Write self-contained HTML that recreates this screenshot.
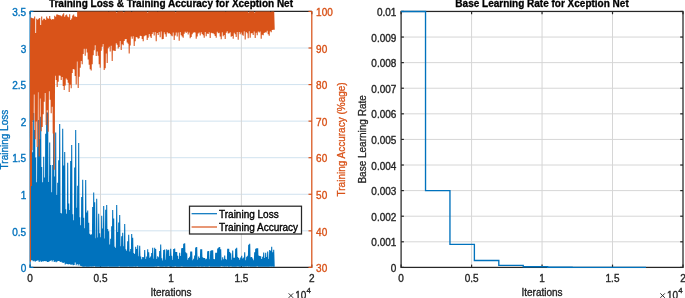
<!DOCTYPE html>
<html><head><meta charset="utf-8"><style>
html,body{margin:0;padding:0;background:#fff;}
svg{display:block;will-change:transform;filter:blur(0.25px);font-family:"Liberation Sans",sans-serif;font-size:10px;}
</style></head><body>
<svg width="685" height="298" viewBox="0 0 685 298">
<line x1="30.1" x2="311.8" y1="230.84" y2="230.84" stroke="#D0E2EF" stroke-width="1"/>
<line x1="30.1" x2="311.8" y1="194.27" y2="194.27" stroke="#D0E2EF" stroke-width="1"/>
<line x1="30.1" x2="311.8" y1="157.71" y2="157.71" stroke="#D0E2EF" stroke-width="1"/>
<line x1="30.1" x2="311.8" y1="121.14" y2="121.14" stroke="#D0E2EF" stroke-width="1"/>
<line x1="30.1" x2="311.8" y1="84.58" y2="84.58" stroke="#D0E2EF" stroke-width="1"/>
<line x1="30.1" x2="311.8" y1="48.01" y2="48.01" stroke="#D0E2EF" stroke-width="1"/>
<line x1="100.53" x2="100.53" y1="11.45" y2="267.4" stroke="#D6D6D6" stroke-width="1"/>
<line x1="170.95" x2="170.95" y1="11.45" y2="267.4" stroke="#D6D6D6" stroke-width="1"/>
<line x1="241.37" x2="241.37" y1="11.45" y2="267.4" stroke="#D6D6D6" stroke-width="1"/>
<line x1="401.1" x2="683.0" y1="241.80" y2="241.80" stroke="#D6D6D6" stroke-width="1"/>
<line x1="401.1" x2="683.0" y1="216.21" y2="216.21" stroke="#D6D6D6" stroke-width="1"/>
<line x1="401.1" x2="683.0" y1="190.61" y2="190.61" stroke="#D6D6D6" stroke-width="1"/>
<line x1="401.1" x2="683.0" y1="165.02" y2="165.02" stroke="#D6D6D6" stroke-width="1"/>
<line x1="401.1" x2="683.0" y1="139.42" y2="139.42" stroke="#D6D6D6" stroke-width="1"/>
<line x1="401.1" x2="683.0" y1="113.83" y2="113.83" stroke="#D6D6D6" stroke-width="1"/>
<line x1="401.1" x2="683.0" y1="88.23" y2="88.23" stroke="#D6D6D6" stroke-width="1"/>
<line x1="401.1" x2="683.0" y1="62.64" y2="62.64" stroke="#D6D6D6" stroke-width="1"/>
<line x1="401.1" x2="683.0" y1="37.05" y2="37.05" stroke="#D6D6D6" stroke-width="1"/>
<line x1="471.58" x2="471.58" y1="11.45" y2="267.4" stroke="#D6D6D6" stroke-width="1"/>
<line x1="542.05" x2="542.05" y1="11.45" y2="267.4" stroke="#D6D6D6" stroke-width="1"/>
<line x1="612.52" x2="612.52" y1="11.45" y2="267.4" stroke="#D6D6D6" stroke-width="1"/>
<line x1="30.1" x2="311.8" y1="11.45" y2="11.45" stroke="#262626" stroke-width="1.25"/>
<line x1="30.1" x2="311.8" y1="267.4" y2="267.4" stroke="#262626" stroke-width="1.25"/>
<line x1="30.10" x2="30.10" y1="267.4" y2="264.59999999999997" stroke="#262626" stroke-width="1.2"/>
<line x1="30.10" x2="30.10" y1="11.45" y2="14.25" stroke="#262626" stroke-width="1.2"/>
<line x1="100.53" x2="100.53" y1="267.4" y2="264.59999999999997" stroke="#262626" stroke-width="1.2"/>
<line x1="100.53" x2="100.53" y1="11.45" y2="14.25" stroke="#262626" stroke-width="1.2"/>
<line x1="170.95" x2="170.95" y1="267.4" y2="264.59999999999997" stroke="#262626" stroke-width="1.2"/>
<line x1="170.95" x2="170.95" y1="11.45" y2="14.25" stroke="#262626" stroke-width="1.2"/>
<line x1="241.37" x2="241.37" y1="267.4" y2="264.59999999999997" stroke="#262626" stroke-width="1.2"/>
<line x1="241.37" x2="241.37" y1="11.45" y2="14.25" stroke="#262626" stroke-width="1.2"/>
<line x1="311.80" x2="311.80" y1="267.4" y2="264.59999999999997" stroke="#262626" stroke-width="1.2"/>
<line x1="311.80" x2="311.80" y1="11.45" y2="14.25" stroke="#262626" stroke-width="1.2"/>
<rect x="401.1" y="11.45" width="281.90" height="255.95" fill="none" stroke="#262626" stroke-width="1.25"/>
<line x1="401.10" x2="401.10" y1="267.4" y2="264.59999999999997" stroke="#262626" stroke-width="1.2"/>
<line x1="401.10" x2="401.10" y1="11.45" y2="14.25" stroke="#262626" stroke-width="1.2"/>
<line x1="471.58" x2="471.58" y1="267.4" y2="264.59999999999997" stroke="#262626" stroke-width="1.2"/>
<line x1="471.58" x2="471.58" y1="11.45" y2="14.25" stroke="#262626" stroke-width="1.2"/>
<line x1="542.05" x2="542.05" y1="267.4" y2="264.59999999999997" stroke="#262626" stroke-width="1.2"/>
<line x1="542.05" x2="542.05" y1="11.45" y2="14.25" stroke="#262626" stroke-width="1.2"/>
<line x1="612.52" x2="612.52" y1="267.4" y2="264.59999999999997" stroke="#262626" stroke-width="1.2"/>
<line x1="612.52" x2="612.52" y1="11.45" y2="14.25" stroke="#262626" stroke-width="1.2"/>
<line x1="683.00" x2="683.00" y1="267.4" y2="264.59999999999997" stroke="#262626" stroke-width="1.2"/>
<line x1="683.00" x2="683.00" y1="11.45" y2="14.25" stroke="#262626" stroke-width="1.2"/>
<line x1="401.1" x2="403.90000000000003" y1="267.40" y2="267.40" stroke="#262626" stroke-width="1.2"/>
<line x1="683.0" x2="680.2" y1="267.40" y2="267.40" stroke="#262626" stroke-width="1.2"/>
<line x1="401.1" x2="403.90000000000003" y1="241.80" y2="241.80" stroke="#262626" stroke-width="1.2"/>
<line x1="683.0" x2="680.2" y1="241.80" y2="241.80" stroke="#262626" stroke-width="1.2"/>
<line x1="401.1" x2="403.90000000000003" y1="216.21" y2="216.21" stroke="#262626" stroke-width="1.2"/>
<line x1="683.0" x2="680.2" y1="216.21" y2="216.21" stroke="#262626" stroke-width="1.2"/>
<line x1="401.1" x2="403.90000000000003" y1="190.61" y2="190.61" stroke="#262626" stroke-width="1.2"/>
<line x1="683.0" x2="680.2" y1="190.61" y2="190.61" stroke="#262626" stroke-width="1.2"/>
<line x1="401.1" x2="403.90000000000003" y1="165.02" y2="165.02" stroke="#262626" stroke-width="1.2"/>
<line x1="683.0" x2="680.2" y1="165.02" y2="165.02" stroke="#262626" stroke-width="1.2"/>
<line x1="401.1" x2="403.90000000000003" y1="139.42" y2="139.42" stroke="#262626" stroke-width="1.2"/>
<line x1="683.0" x2="680.2" y1="139.42" y2="139.42" stroke="#262626" stroke-width="1.2"/>
<line x1="401.1" x2="403.90000000000003" y1="113.83" y2="113.83" stroke="#262626" stroke-width="1.2"/>
<line x1="683.0" x2="680.2" y1="113.83" y2="113.83" stroke="#262626" stroke-width="1.2"/>
<line x1="401.1" x2="403.90000000000003" y1="88.23" y2="88.23" stroke="#262626" stroke-width="1.2"/>
<line x1="683.0" x2="680.2" y1="88.23" y2="88.23" stroke="#262626" stroke-width="1.2"/>
<line x1="401.1" x2="403.90000000000003" y1="62.64" y2="62.64" stroke="#262626" stroke-width="1.2"/>
<line x1="683.0" x2="680.2" y1="62.64" y2="62.64" stroke="#262626" stroke-width="1.2"/>
<line x1="401.1" x2="403.90000000000003" y1="37.05" y2="37.05" stroke="#262626" stroke-width="1.2"/>
<line x1="683.0" x2="680.2" y1="37.05" y2="37.05" stroke="#262626" stroke-width="1.2"/>
<line x1="401.1" x2="403.90000000000003" y1="11.45" y2="11.45" stroke="#262626" stroke-width="1.2"/>
<line x1="683.0" x2="680.2" y1="11.45" y2="11.45" stroke="#262626" stroke-width="1.2"/>
<line x1="30.1" x2="30.1" y1="10.899999999999999" y2="267.95" stroke="#0072BD" stroke-width="1.25"/>
<line x1="311.8" x2="311.8" y1="10.899999999999999" y2="267.95" stroke="#D95319" stroke-width="1.25"/>
<line x1="30.1" x2="33.4" y1="267.40" y2="267.40" stroke="#0072BD" stroke-width="1.2"/>
<line x1="311.8" x2="308.5" y1="267.40" y2="267.40" stroke="#D95319" stroke-width="1.2"/>
<line x1="30.1" x2="33.4" y1="230.84" y2="230.84" stroke="#0072BD" stroke-width="1.2"/>
<line x1="311.8" x2="308.5" y1="230.84" y2="230.84" stroke="#D95319" stroke-width="1.2"/>
<line x1="30.1" x2="33.4" y1="194.27" y2="194.27" stroke="#0072BD" stroke-width="1.2"/>
<line x1="311.8" x2="308.5" y1="194.27" y2="194.27" stroke="#D95319" stroke-width="1.2"/>
<line x1="30.1" x2="33.4" y1="157.71" y2="157.71" stroke="#0072BD" stroke-width="1.2"/>
<line x1="311.8" x2="308.5" y1="157.71" y2="157.71" stroke="#D95319" stroke-width="1.2"/>
<line x1="30.1" x2="33.4" y1="121.14" y2="121.14" stroke="#0072BD" stroke-width="1.2"/>
<line x1="311.8" x2="308.5" y1="121.14" y2="121.14" stroke="#D95319" stroke-width="1.2"/>
<line x1="30.1" x2="33.4" y1="84.58" y2="84.58" stroke="#0072BD" stroke-width="1.2"/>
<line x1="311.8" x2="308.5" y1="84.58" y2="84.58" stroke="#D95319" stroke-width="1.2"/>
<line x1="30.1" x2="33.4" y1="48.01" y2="48.01" stroke="#0072BD" stroke-width="1.2"/>
<line x1="311.8" x2="308.5" y1="48.01" y2="48.01" stroke="#D95319" stroke-width="1.2"/>
<line x1="30.1" x2="33.4" y1="11.45" y2="11.45" stroke="#0072BD" stroke-width="1.2"/>
<line x1="311.8" x2="308.5" y1="11.45" y2="11.45" stroke="#D95319" stroke-width="1.2"/>
<polyline points="30.40,120.00 30.70,178.94 31.20,260.32 31.70,123.15 32.20,260.35 32.70,152.30 33.20,261.15 33.70,113.00 34.20,260.79 34.70,129.97 35.20,261.79 35.70,157.53 36.20,261.11 36.70,182.31 37.20,260.55 37.70,146.68 38.20,260.57 38.70,120.00 39.20,262.01 39.70,138.94 40.20,260.76 40.70,116.86 41.20,261.89 41.70,166.99 42.20,261.36 42.70,182.32 43.20,261.49 43.70,156.72 44.20,260.91 44.70,177.56 45.20,261.24 45.70,133.75 46.20,261.03 46.70,112.24 47.20,262.09 47.70,112.40 48.20,262.09 48.70,181.93 49.20,261.47 49.70,142.53 50.20,260.91 50.70,165.00 51.20,260.21 51.70,192.30 52.20,261.48 52.70,164.91 53.20,260.21 53.70,116.00 54.20,262.02 54.70,176.38 55.20,261.62 55.70,132.55 56.20,262.37 56.70,195.04 57.20,261.58 57.70,182.81 58.20,261.00 58.70,160.29 59.20,261.10 59.70,124.00 60.20,261.98 60.70,212.90 61.20,261.79 61.70,213.46 62.20,262.57 62.70,128.70 63.20,263.10 63.70,165.55 64.20,262.62 64.70,151.90 65.20,264.39 65.70,209.22 66.20,263.63 66.70,213.82 67.20,264.00 67.70,162.70 68.20,264.61 68.70,203.41 69.20,263.95 69.70,209.93 70.20,264.55 70.70,161.00 71.20,264.75 71.70,145.10 72.20,264.48 72.70,214.37 73.20,265.19 73.70,220.38 74.20,265.11 74.70,167.40 75.20,262.56 75.70,130.00 76.20,265.23 76.70,207.85 77.20,264.05 77.70,185.72 78.20,265.48 78.70,143.00 79.20,264.23 79.70,217.17 80.20,265.76 80.70,225.38 81.20,265.90 81.70,197.00 82.20,266.44 82.70,179.82 83.20,266.72 83.70,217.64 84.20,266.80 84.70,228.31 85.20,266.49 85.70,180.00 86.20,266.80 86.70,212.40 87.20,266.80 87.70,210.40 88.20,266.80 88.70,222.78 89.20,266.80 89.70,233.70 90.20,266.56 90.70,234.66 91.20,266.80 91.70,234.30 92.20,266.55 92.70,207.00 93.20,266.80 93.70,192.60 94.20,266.09 94.70,202.15 95.20,266.80 95.70,238.37 96.20,266.80 96.70,198.67 97.20,266.80 97.70,237.45 98.20,266.80 98.70,213.80 99.20,266.80 99.70,233.25 100.20,266.80 100.70,237.35 101.20,266.80 101.70,215.80 102.20,266.80 102.70,228.45 103.20,266.80 103.70,206.00 104.20,266.80 104.70,238.47 105.20,266.80 105.70,209.80 106.20,266.79 106.70,205.00 107.20,266.65 107.70,229.02 108.20,266.44 108.70,231.22 109.20,266.80 109.70,244.61 110.20,266.80 110.70,238.72 111.20,266.80 111.70,226.30 112.20,266.80 112.70,210.00 113.20,266.80 113.70,218.50 114.20,266.80 114.70,246.84 115.20,266.80 115.70,248.13 116.20,266.80 116.70,205.00 117.20,266.80 117.70,231.93 118.20,266.80 118.70,222.63 119.20,266.34 119.70,214.99 120.20,266.80 120.70,246.22 121.20,266.80 121.70,236.14 122.20,266.80 122.70,232.64 123.20,266.80 123.70,246.17 124.20,266.80 124.70,223.93 125.20,266.80 125.70,249.26 126.20,266.80 126.70,250.80 127.20,266.78 127.70,241.35 128.20,266.39 128.70,234.70 129.20,266.64 129.70,251.63 130.20,266.80 130.70,249.06 131.20,266.80 131.70,234.13 132.20,266.80 132.70,237.69 133.20,266.80 133.70,253.04 134.20,266.55 134.70,254.03 135.20,266.80 135.70,246.64 136.20,266.68 136.70,248.98 137.20,266.24 137.70,245.36 138.20,266.80 138.70,256.21 139.20,266.80 139.70,245.85 140.20,266.80 140.70,256.44 141.20,266.80 141.70,259.23 142.20,266.80 142.70,256.99 143.20,266.80 143.70,257.19 144.20,266.72 144.70,249.95 145.20,266.79 145.70,258.91 146.20,266.80 146.70,256.59 147.20,266.80 147.70,249.36 148.20,266.80 148.70,252.19 149.20,266.80 149.70,257.71 150.20,266.77 150.70,256.47 151.20,266.69 151.70,252.93 152.20,266.74 152.70,247.83 153.20,266.80 153.70,258.74 154.20,266.80 154.70,247.64 155.20,266.37 155.70,248.93 156.20,266.80 156.70,259.10 157.20,266.43 157.70,256.30 158.20,266.26 158.70,257.19 159.20,266.50 159.70,250.91 160.20,266.80 160.70,244.40 161.20,266.80 161.70,258.18 162.20,266.80 162.70,260.45 163.20,266.80 163.70,249.97 164.20,266.57 164.70,249.44 165.20,266.80 165.70,259.76 166.20,266.80 166.70,249.35 167.20,266.80 167.70,250.23 168.20,266.32 168.70,249.87 169.20,266.80 169.70,256.03 170.20,266.49 170.70,248.69 171.20,266.80 171.70,255.67 172.20,266.68 172.70,260.12 173.20,266.80 173.70,249.13 174.20,266.80 174.70,248.45 175.20,266.20 175.70,252.11 176.20,266.80 176.70,251.90 177.20,266.80 177.70,255.83 178.20,266.80 178.70,258.94 179.20,266.80 179.70,252.80 180.20,266.80 180.70,255.90 181.20,266.58 181.70,248.14 182.20,266.52 182.70,247.92 183.20,266.80 183.70,243.86 184.20,266.80 184.70,243.38 185.20,266.80 185.70,252.15 186.20,266.80 186.70,253.35 187.20,266.68 187.70,259.79 188.20,266.80 188.70,257.95 189.20,266.80 189.70,256.82 190.20,266.80 190.70,251.60 191.20,266.80 191.70,251.44 192.20,266.80 192.70,260.21 193.20,266.80 193.70,258.89 194.20,266.63 194.70,255.51 195.20,266.80 195.70,247.48 196.20,266.70 196.70,247.03 197.20,266.57 197.70,259.77 198.20,266.80 198.70,256.61 199.20,266.80 199.70,258.06 200.20,266.46 200.70,249.28 201.20,266.73 201.70,249.29 202.20,266.66 202.70,257.16 203.20,266.80 203.70,257.99 204.20,266.52 204.70,258.07 205.20,266.80 205.70,259.26 206.20,266.80 206.70,258.85 207.20,266.80 207.70,251.20 208.20,266.61 208.70,251.07 209.20,266.23 209.70,259.24 210.20,266.80 210.70,250.85 211.20,266.80 211.70,250.37 212.20,266.80 212.70,250.23 213.20,266.75 213.70,258.93 214.20,266.59 214.70,259.17 215.20,266.80 215.70,252.68 216.20,266.80 216.70,252.87 217.20,266.80 217.70,248.59 218.20,266.78 218.70,247.49 219.20,266.80 219.70,247.07 220.20,266.80 220.70,249.15 221.20,266.29 221.70,260.18 222.20,266.50 222.70,257.37 223.20,266.47 223.70,259.41 224.20,266.80 224.70,255.59 225.20,266.57 225.70,259.01 226.20,266.80 226.70,259.70 227.20,266.24 227.70,248.74 228.20,266.80 228.70,248.66 229.20,266.80 229.70,252.04 230.20,266.51 230.70,253.22 231.20,266.52 231.70,259.69 232.20,266.61 232.70,250.52 233.20,266.80 233.70,257.82 234.20,266.80 234.70,257.77 235.20,266.80 235.70,248.77 236.20,266.62 236.70,247.68 237.20,266.53 237.70,257.06 238.20,266.58 238.70,258.01 239.20,266.80 239.70,259.76 240.20,266.80 240.70,257.58 241.20,266.58 241.70,255.84 242.20,266.53 242.70,258.45 243.20,266.65 243.70,257.55 244.20,266.80 244.70,252.35 245.20,266.36 245.70,260.22 246.20,266.80 246.70,256.67 247.20,266.25 247.70,255.82 248.20,266.80 248.70,244.64 249.20,266.53 249.70,243.77 250.20,266.80 250.70,257.35 251.20,266.80 251.70,257.13 252.20,266.80 252.70,258.60 253.20,266.76 253.70,260.21 254.20,266.76 254.70,252.21 255.20,266.80 255.70,248.85 256.20,266.80 256.70,248.18 257.20,266.27 257.70,248.31 258.20,266.80 258.70,255.53 259.20,266.67 259.70,255.98 260.20,266.80 260.70,256.22 261.20,266.80 261.70,258.97 262.20,266.69 262.70,256.70 263.20,266.67 263.70,252.43 264.20,266.80 264.70,257.95 265.20,266.65 265.70,252.79 266.20,266.75 266.70,256.99 267.20,266.80 267.70,251.40 268.20,266.80 268.70,259.05 269.20,266.80 269.70,250.13 270.20,266.54 270.70,250.87 271.20,266.80 271.70,246.80 272.20,266.60 272.70,252.37 273.20,266.80 273.70,249.78 274.20,266.80" fill="none" stroke="#0072BD" stroke-width="1.05" stroke-linejoin="bevel"/>
<polyline points="30.40,261.50 30.45,42.00 31.00,17.50 31.35,186.00 31.70,18.00 32.00,150.00 32.70,18.29 33.20,120.28 33.70,18.60 34.20,94.46 34.70,16.52 35.20,139.21 35.70,33.00 36.20,121.38 36.70,18.63 37.20,147.10 37.70,19.76 38.20,92.14 38.70,18.68 39.20,156.40 39.70,18.08 40.20,98.40 40.70,25.04 41.20,131.34 41.70,16.48 42.20,127.10 42.70,20.20 43.20,114.26 43.70,18.82 44.20,101.65 44.70,18.78 45.20,93.04 45.70,20.05 46.20,125.00 46.70,16.45 47.20,110.30 47.70,18.29 48.20,131.66 48.70,18.69 49.20,91.14 49.70,15.94 50.20,99.76 50.70,18.76 51.20,113.32 51.70,19.73 52.20,106.66 52.70,18.88 53.20,133.56 53.70,19.24 54.20,169.74 54.70,15.82 55.20,75.74 55.70,16.69 56.20,80.06 56.70,14.56 57.20,86.98 57.70,14.53 58.20,81.68 58.70,15.00 59.20,75.46 59.70,15.35 60.20,75.87 60.70,15.61 61.20,80.02 61.70,16.23 62.20,76.98 62.70,14.50 63.20,86.00 63.70,13.23 64.20,89.94 64.70,16.78 65.20,85.53 65.70,15.16 66.20,78.50 66.70,14.38 67.20,79.70 67.70,16.61 68.20,82.65 68.70,17.15 69.20,92.00 69.70,14.14 70.20,84.87 70.70,19.95 71.20,88.35 71.70,18.55 72.20,72.96 72.70,15.42 73.20,68.89 73.70,14.43 74.20,69.54 74.70,16.59 75.20,75.90 75.70,16.59 76.20,84.42 76.70,16.97 77.20,61.37 77.70,11.45 78.20,88.00 78.70,11.45 79.20,76.67 79.70,11.45 80.20,67.78 80.70,11.45 81.20,61.05 81.70,11.45 82.20,64.29 82.70,11.45 83.20,53.99 83.70,11.45 84.20,48.77 84.70,11.45 85.20,55.73 85.70,11.45 86.20,48.63 86.70,11.45 87.20,52.50 87.70,11.45 88.20,59.54 88.70,11.45 89.20,64.84 89.70,11.45 90.20,69.29 90.70,11.45 91.20,70.52 91.70,11.45 92.20,64.33 92.70,11.45 93.20,55.28 93.70,11.45 94.20,50.25 94.70,11.45 95.20,45.21 95.70,11.45 96.20,56.00 96.70,11.45 97.20,51.59 97.70,11.45 98.20,55.82 98.70,11.45 99.20,64.35 99.70,11.45 100.20,67.70 100.70,11.45 101.20,50.66 101.70,11.45 102.20,46.82 102.70,11.45 103.20,44.07 103.70,11.45 104.20,70.00 104.70,11.60 105.20,68.19 105.70,11.59 106.20,53.46 106.70,11.45 107.20,62.89 107.70,11.45 108.20,48.33 108.70,11.71 109.20,46.82 109.70,11.45 110.20,51.44 110.70,11.45 111.20,45.85 111.70,11.45 112.20,61.05 112.70,11.45 113.20,50.46 113.70,11.45 114.20,50.68 114.70,11.45 115.20,51.10 115.70,11.45 116.20,43.34 116.70,12.58 117.20,44.86 117.70,11.70 118.20,48.41 118.70,11.45 119.20,46.95 119.70,11.45 120.20,41.05 120.70,11.45 121.20,49.97 121.70,11.45 122.20,44.19 122.70,11.45 123.20,45.34 123.70,12.17 124.20,40.88 124.70,11.64 125.20,39.16 125.70,11.45 126.20,38.90 126.70,11.45 127.20,42.45 127.70,11.45 128.20,43.82 128.70,11.45 129.20,53.50 129.70,11.45 130.20,45.44 130.70,11.45 131.20,36.54 131.70,12.01 132.20,38.74 132.70,11.45 133.20,36.17 133.70,11.45 134.20,45.99 134.70,11.45 135.20,41.24 135.70,11.45 136.20,37.10 136.70,11.45 137.20,37.37 137.70,11.45 138.20,38.74 138.70,11.45 139.20,38.22 139.70,11.45 140.20,35.72 140.70,11.45 141.20,36.09 141.70,11.45 142.20,39.02 142.70,11.45 143.20,41.22 143.70,11.45 144.20,36.25 144.70,11.45 145.20,35.61 145.70,11.45 146.20,35.35 146.70,11.45 147.20,40.07 147.70,12.52 148.20,37.73 148.70,11.45 149.20,34.00 149.70,11.45 150.20,36.39 150.70,11.45 151.20,38.05 151.70,11.45 152.20,34.01 152.70,11.45 153.20,32.26 153.70,11.45 154.20,35.44 154.70,11.45 155.20,32.01 155.70,11.45 156.20,41.18 156.70,11.45 157.20,32.90 157.70,11.80 158.20,35.00 158.70,11.45 159.20,31.90 159.70,11.45 160.20,37.19 160.70,11.45 161.20,31.39 161.70,11.45 162.20,39.22 162.70,11.45 163.20,39.10 163.70,11.45 164.20,32.34 164.70,11.45 165.20,34.32 165.70,11.45 166.20,36.80 166.70,11.48 167.20,32.21 167.70,11.45 168.20,33.54 168.70,11.45 169.20,32.94 169.70,11.45 170.20,33.99 170.70,11.45 171.20,35.53 171.70,11.45 172.20,36.22 172.70,11.45 173.20,32.59 173.70,11.45 174.20,39.92 174.70,11.45 175.20,35.40 175.70,12.18 176.20,32.59 176.70,11.45 177.20,36.41 177.70,11.45 178.20,32.39 178.70,11.45 179.20,40.68 179.70,11.45 180.20,32.06 180.70,11.45 181.20,35.35 181.70,11.45 182.20,36.40 182.70,11.45 183.20,37.68 183.70,11.45 184.20,33.78 184.70,11.45 185.20,31.74 185.70,11.45 186.20,32.88 186.70,11.45 187.20,31.66 187.70,11.45 188.20,34.38 188.70,11.45 189.20,32.54 189.70,11.45 190.20,38.36 190.70,11.45 191.20,37.05 191.70,11.45 192.20,34.24 192.70,11.45 193.20,32.84 193.70,11.45 194.20,32.22 194.70,11.45 195.20,32.42 195.70,11.45 196.20,38.80 196.70,11.45 197.20,36.60 197.70,11.45 198.20,33.46 198.70,11.45 199.20,32.55 199.70,11.45 200.20,35.47 200.70,11.45 201.20,32.23 201.70,11.45 202.20,33.99 202.70,11.45 203.20,35.22 203.70,11.45 204.20,37.78 204.70,11.45 205.20,32.03 205.70,11.45 206.20,36.34 206.70,11.45 207.20,33.53 207.70,11.45 208.20,33.95 208.70,11.45 209.20,32.19 209.70,11.45 210.20,37.98 210.70,11.45 211.20,32.85 211.70,11.45 212.20,33.16 212.70,11.45 213.20,33.23 213.70,11.50 214.20,34.24 214.70,11.45 215.20,35.99 215.70,11.53 216.20,37.76 216.70,11.45 217.20,31.68 217.70,11.45 218.20,33.22 218.70,11.45 219.20,32.65 219.70,11.45 220.20,36.54 220.70,11.45 221.20,39.28 221.70,11.45 222.20,32.25 222.70,11.45 223.20,36.19 223.70,11.45 224.20,35.01 224.70,11.45 225.20,38.97 225.70,11.82 226.20,32.76 226.70,11.45 227.20,31.29 227.70,11.45 228.20,33.55 228.70,11.63 229.20,33.32 229.70,11.45 230.20,32.14 230.70,11.45 231.20,36.82 231.70,11.45 232.20,35.98 232.70,11.45 233.20,38.84 233.70,11.45 234.20,32.74 234.70,11.45 235.20,34.18 235.70,11.45 236.20,36.92 236.70,11.45 237.20,32.03 237.70,11.45 238.20,39.71 238.70,11.45 239.20,31.92 239.70,11.45 240.20,34.12 240.70,11.45 241.20,32.48 241.70,11.45 242.20,34.78 242.70,11.45 243.20,35.71 243.70,11.45 244.20,31.21 244.70,11.45 245.20,39.53 245.70,11.45 246.20,32.03 246.70,11.45 247.20,33.28 247.70,11.45 248.20,38.22 248.70,12.59 249.20,31.16 249.70,11.45 250.20,37.69 250.70,11.45 251.20,33.30 251.70,11.45 252.20,33.12 252.70,11.45 253.20,34.89 253.70,11.45 254.20,31.56 254.70,12.53 255.20,37.90 255.70,11.45 256.20,32.71 256.70,11.45 257.20,35.12 257.70,11.45 258.20,31.51 258.70,11.45 259.20,32.53 259.70,11.45 260.20,31.52 260.70,11.45 261.20,38.65 261.70,11.45 262.20,34.75 262.70,11.45 263.20,35.20 263.70,11.45 264.20,33.01 264.70,11.45 265.20,32.35 265.70,11.45 266.20,32.61 266.70,11.45 267.20,30.78 267.70,11.45 268.20,34.24 268.70,11.45 269.20,35.83 269.70,11.45 270.20,31.27 270.70,12.05 271.20,32.21 271.70,11.45 272.20,29.92 272.70,11.45 273.20,29.67 273.70,11.45 274.20,29.66" fill="none" stroke="#D95319" stroke-width="1.05" stroke-linejoin="bevel"/>
<polyline points="401.10,11.45 425.53,11.45 425.53,190.61 449.95,190.61 449.95,244.36 474.38,244.36 474.38,260.49 498.81,260.49 498.81,265.33 523.23,265.33 523.23,266.78 547.66,266.78 547.66,267.21 572.09,267.21 572.09,267.34 596.51,267.34 596.51,267.38 620.94,267.38 620.94,267.39 645.37,267.39 645.37,267.40 645.93,267.40" fill="none" stroke="#0072BD" stroke-width="1.35"/>
<rect x="189.5" y="206.2" width="112" height="27.8" fill="#fff" stroke="#262626" stroke-width="1.25"/>
<line x1="191.6" x2="217" y1="213.7" y2="213.7" stroke="#0072BD" stroke-width="1.2"/>
<line x1="191.6" x2="217" y1="227" y2="227" stroke="#D95319" stroke-width="1.2"/>
<text stroke="#000" stroke-width="0.35" x="219" y="217.6" fill="#000">Training Loss</text>
<text stroke="#000" stroke-width="0.35" x="219" y="230.8" fill="#000">Training Accuracy</text>
<text stroke="#0072BD" stroke-width="0.35" x="26.2" y="272.10" text-anchor="end" fill="#0072BD">0</text>
<text stroke="#0072BD" stroke-width="0.35" x="26.2" y="235.54" text-anchor="end" fill="#0072BD">0.5</text>
<text stroke="#0072BD" stroke-width="0.35" x="26.2" y="198.97" text-anchor="end" fill="#0072BD">1</text>
<text stroke="#0072BD" stroke-width="0.35" x="26.2" y="162.41" text-anchor="end" fill="#0072BD">1.5</text>
<text stroke="#0072BD" stroke-width="0.35" x="26.2" y="125.84" text-anchor="end" fill="#0072BD">2</text>
<text stroke="#0072BD" stroke-width="0.35" x="26.2" y="89.28" text-anchor="end" fill="#0072BD">2.5</text>
<text stroke="#0072BD" stroke-width="0.35" x="26.2" y="52.71" text-anchor="end" fill="#0072BD">3</text>
<text stroke="#0072BD" stroke-width="0.35" x="26.2" y="16.15" text-anchor="end" fill="#0072BD">3.5</text>
<text stroke="#D95319" stroke-width="0.35" x="316.1" y="272.10" fill="#D95319">30</text>
<text stroke="#D95319" stroke-width="0.35" x="316.1" y="235.54" fill="#D95319">40</text>
<text stroke="#D95319" stroke-width="0.35" x="316.1" y="198.97" fill="#D95319">50</text>
<text stroke="#D95319" stroke-width="0.35" x="316.1" y="162.41" fill="#D95319">60</text>
<text stroke="#D95319" stroke-width="0.35" x="316.1" y="125.84" fill="#D95319">70</text>
<text stroke="#D95319" stroke-width="0.35" x="316.1" y="89.28" fill="#D95319">80</text>
<text stroke="#D95319" stroke-width="0.35" x="316.1" y="52.71" fill="#D95319">90</text>
<text stroke="#D95319" stroke-width="0.35" x="316.1" y="16.15" fill="#D95319">100</text>
<text stroke="#262626" stroke-width="0.35" x="30.10" y="281.8" text-anchor="middle" fill="#262626">0</text>
<text stroke="#262626" stroke-width="0.35" x="401.10" y="281.8" text-anchor="middle" fill="#262626">0</text>
<text stroke="#262626" stroke-width="0.35" x="100.53" y="281.8" text-anchor="middle" fill="#262626">0.5</text>
<text stroke="#262626" stroke-width="0.35" x="471.58" y="281.8" text-anchor="middle" fill="#262626">0.5</text>
<text stroke="#262626" stroke-width="0.35" x="170.95" y="281.8" text-anchor="middle" fill="#262626">1</text>
<text stroke="#262626" stroke-width="0.35" x="542.05" y="281.8" text-anchor="middle" fill="#262626">1</text>
<text stroke="#262626" stroke-width="0.35" x="241.37" y="281.8" text-anchor="middle" fill="#262626">1.5</text>
<text stroke="#262626" stroke-width="0.35" x="612.52" y="281.8" text-anchor="middle" fill="#262626">1.5</text>
<text stroke="#262626" stroke-width="0.35" x="311.80" y="281.8" text-anchor="middle" fill="#262626">2</text>
<text stroke="#262626" stroke-width="0.35" x="683.00" y="281.8" text-anchor="middle" fill="#262626">2</text>
<text stroke="#262626" stroke-width="0.35" x="396.4" y="271.90" text-anchor="end" fill="#262626">0</text>
<text stroke="#262626" stroke-width="0.35" x="396.4" y="246.30" text-anchor="end" fill="#262626">0.001</text>
<text stroke="#262626" stroke-width="0.35" x="396.4" y="220.71" text-anchor="end" fill="#262626">0.002</text>
<text stroke="#262626" stroke-width="0.35" x="396.4" y="195.11" text-anchor="end" fill="#262626">0.003</text>
<text stroke="#262626" stroke-width="0.35" x="396.4" y="169.52" text-anchor="end" fill="#262626">0.004</text>
<text stroke="#262626" stroke-width="0.35" x="396.4" y="143.92" text-anchor="end" fill="#262626">0.005</text>
<text stroke="#262626" stroke-width="0.35" x="396.4" y="118.33" text-anchor="end" fill="#262626">0.006</text>
<text stroke="#262626" stroke-width="0.35" x="396.4" y="92.73" text-anchor="end" fill="#262626">0.007</text>
<text stroke="#262626" stroke-width="0.35" x="396.4" y="67.14" text-anchor="end" fill="#262626">0.008</text>
<text stroke="#262626" stroke-width="0.35" x="396.4" y="41.55" text-anchor="end" fill="#262626">0.009</text>
<text stroke="#262626" stroke-width="0.35" x="396.4" y="15.95" text-anchor="end" fill="#262626">0.01</text>
<text stroke="#262626" stroke-width="0.35" x="170.95" y="295.7" text-anchor="middle" fill="#262626">Iterations</text>
<text stroke="#262626" stroke-width="0.35" x="542.05" y="295.7" text-anchor="middle" fill="#262626">Iterations</text>
<text stroke="#0072BD" stroke-width="0.3" transform="translate(7.6,139.6) rotate(-90)" text-anchor="middle" fill="#0072BD">Training Loss</text>
<text stroke="#D95319" stroke-width="0.3" transform="translate(345.2,139.4) rotate(-90)" text-anchor="middle" fill="#D95319">Training Accuracy (%age)</text>
<text stroke="#262626" stroke-width="0.3" transform="translate(366.4,139.4) rotate(-90)" text-anchor="middle" fill="#262626">Base Learning Rate</text>
<text stroke="#262626" stroke-width="0.35" x="306.50" y="293.2" font-size="7.8" fill="#262626">4</text>
<text stroke="#262626" stroke-width="0.35" x="306.40" y="298.8" text-anchor="end" fill="#262626">10</text>
<path d="M288.65,293.35L293.15,297.85M293.15,293.35L288.65,297.85" stroke="#262626" stroke-width="0.95" fill="none"/>
<text stroke="#262626" stroke-width="0.35" x="678.20" y="293.2" font-size="7.8" fill="#262626">4</text>
<text stroke="#262626" stroke-width="0.35" x="678.10" y="298.8" text-anchor="end" fill="#262626">10</text>
<path d="M660.35,293.35L664.85,297.85M664.85,293.35L660.35,297.85" stroke="#262626" stroke-width="0.95" fill="none"/>
<text stroke="#000" stroke-width="0.3" x="170.95" y="6.8" text-anchor="middle" font-weight="bold" fill="#000">Training Loss &amp; Training Accuracy for Xception Net</text>
<text stroke="#000" stroke-width="0.3" x="542.05" y="6.8" text-anchor="middle" font-weight="bold" fill="#000">Base Learning Rate for Xception Net</text>
</svg>
</body></html>
